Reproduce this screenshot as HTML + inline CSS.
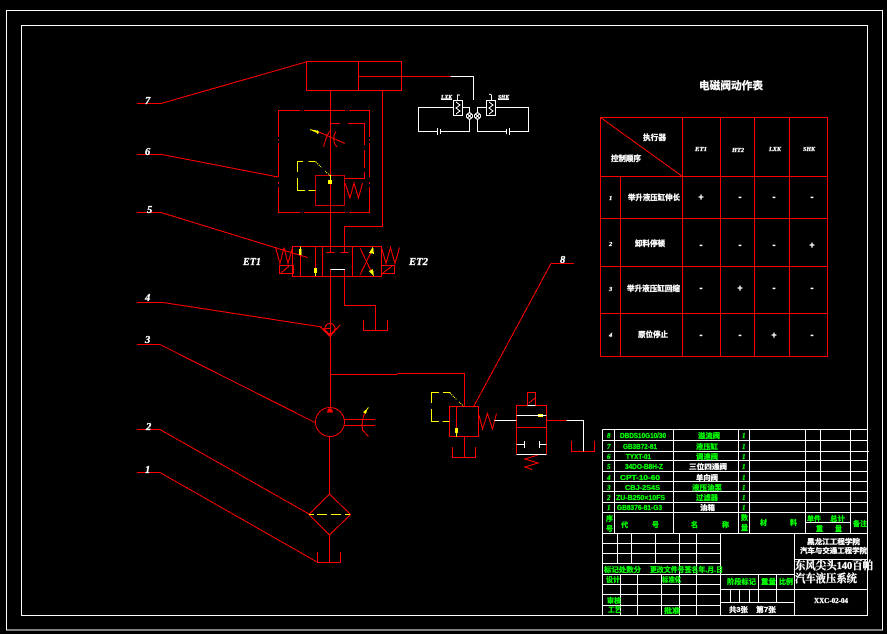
<!DOCTYPE html>
<html>
<head>
<meta charset="utf-8">
<style>
html,body{margin:0;padding:0;background:#000;width:887px;height:634px;overflow:hidden}
svg{display:block}
text{font-family:"Liberation Sans","Noto Sans CJK SC",sans-serif;font-weight:bold}
.w{fill:#fff}.g{fill:#0f0}
.w text{stroke:#fff;stroke-width:.3}
.g text{stroke:#0f0;stroke-width:.3}
.m{text-anchor:middle}
.r path,.r line,.r rect,.r circle{fill:none;stroke:#f00;stroke-width:1}
.y path,.y rect{fill:none;stroke:#ff0;stroke-width:1}
.wl path,.wl rect,.wl circle{fill:none;stroke:#fff;stroke-width:1}
.it{font-family:"Liberation Serif","Noto Serif CJK SC",serif;font-style:italic}
.se{font-family:"Liberation Serif","Noto Serif CJK SC",serif}
</style>
</head>
<body>
<svg width="887" height="634" viewBox="0 0 887 634" xmlns="http://www.w3.org/2000/svg" shape-rendering="crispEdges">
<rect width="887" height="634" fill="#000"/>

<!-- frames -->
<g class="wl">
<rect x="6.5" y="10.5" width="876" height="619.5"/>
<rect x="21.5" y="25.5" width="846" height="590"/>
</g>

<!-- hydraulic red -->
<g class="r">
<!-- cylinder -->
<rect x="306.5" y="61.5" width="95" height="29"/>
<path d="M358.5 61.5V90.5M358.5 76.5H450.5"/>
<path d="M330.5 90.5V246.5M382.5 90.5V226.5H344.5V246.5"/>
<!-- leaders -->
<path d="M137 103.5H161L306 62"/>
<path d="M137 154.5H162L278 177"/>
<path d="M137 212.5H161L307.5 257.5"/>
<path d="M137 302.5H163L322 327"/>
<path d="M137 344.5H160L316 423"/>
<path d="M137 429.5H160L309 514"/>
<path d="M137 472.5H160L317 562"/>
<path d="M551 263.5H574M551 263.5L474 406"/>
<!-- dash frame 6 -->
<path d="M278.5 110.5H300M301.5 110.5H302.5M304 110.5H345M346.5 110.5H347.5M349 110.5H369.5V137M369.5 139V140M369.5 143V177M369.5 182V184M369.5 187V212.5H349M347.5 212.5H346.5M345 212.5H304M302.5 212.5H301.5M300 212.5H278.5V187M278.5 184V182M278.5 177V143M278.5 140V139M278.5 137V110.5"/>
<!-- throttle return -->
<path d="M330.5 123.5H340M348 123.5H364.5V145M364.5 150V168M364.5 172V178.5H344.5"/>
<!-- valve in 6 -->
<rect x="315.5" y="175.5" width="29" height="30" style="stroke:#d00000"/>
<path d="M345 183L350 198L354 183L358.5 198L362.5 183"/>
<path d="M319 132L345 143.5"/>
<path d="M329.5 131Q325 140 323.5 147M336 131Q331 140 337 147"/>
<!-- directional valve -->
<rect x="292.5" y="246.5" width="89" height="30"/>
<path d="M322.5 246.5V276.5M352.5 246.5V276.5M300.5 246.5V276.5M315.5 246.5V276.5"/>
<path d="M330.5 246.5V252.5M326.5 252.5H334.5M344.5 246.5V252.5M340.5 252.5H348.5"/>
<path d="M360 248L373 275M373 248L360 275"/>
<path d="M275.5 247.5L280 263.5L284 247.5L288 263.5L292.5 247.5"/>
<path d="M381.5 247.5L386 263.5L390.5 247.5L395 263.5L399.5 247.5"/>
<rect x="279.5" y="265.5" width="14" height="8"/>
<path d="M281 273L289 266"/>
<rect x="381.5" y="265.5" width="13" height="8"/>
<path d="M383 273L392 266"/>
<!-- below valve -->
<path d="M330.5 269.5V408M344.5 269.5V305.5H375.5V330.5"/>
<path d="M363.5 320V330.5H387.5V320"/>
<!-- check valve -->
<circle cx="330" cy="328.5" r="5"/>
<path d="M320 326.5L330 336.5L340 325M323.5 328.5L330 335L336.5 328.5M325 328.5H330"/>
<!-- branch -->
<path d="M330.5 374.5H397.5M397.5 373.5H464.5V406"/>
<!-- pump -->
<circle cx="330" cy="422" r="14.5"/>
<path d="M344.5 419.5H375M344.5 425.5H375"/>
<path d="M365.5 412Q361 420 362.5 430L368.5 436.5"/>
<path d="M329.5 436V494M329.5 535V562.5"/>
<path d="M329.5 494L350.5 514.5L329.5 535L309 514.5Z"/>
<path d="M317.5 552V562.5H340.5V552"/>
<!-- relief -->
<rect x="449.5" y="406.5" width="29" height="30"/>
<path d="M456.5 406.5V436.5M464.5 436.5V457.5"/>
<path d="M452.5 447V457.5H475.5V447"/>
<path d="M479 415L482.5 429L487.5 413.5L492.5 429L496.5 413.5"/>
<!-- right element -->
<path d="M516.5 415V405.5H546.5V415M516.5 415V454M546.5 415V454M516.5 427.5H546.5M546.5 420.5H566.5"/>
<rect x="527.5" y="392.5" width="8" height="13"/>
<path d="M529 403L535 398"/>
<path d="M538 455L525 459L538 463L525 467L532 469.5"/>
<path d="M571.5 441V451.5H594.5V441"/>
</g>
<path d="M328 408.5L332 408.5L333 412.5L327 412.5Z" fill="#f00"/>

<!-- yellow -->
<g class="y">
<path d="M315.5 161.5H308.5M303 161.5H297.5V172M297.5 178V190.5H305M308.5 190.5H315.5"/>
<path d="M316 162L322 168M325 171L330 175.5" stroke-dasharray="1 1"/>
<path d="M330.5 175V180"/>
<path d="M450.5 392.5H443M439 392.5H431.5V403M431.5 409V421.5H439M442.5 421.5H449.5"/>
<path d="M450 393L457 400M459 402L463.5 406" stroke-dasharray="1 1"/>
<path d="M309 514.5H314M317 514.5H327M331 514.5H341M345 514.5H350"/>
<path d="M310 129.5L319 133"/>
<path d="M456.5 431V437M315.5 270V276M300.5 246.5V252M364 413L368.5 407.5"/>
</g>
<g fill="#ff0">
<rect x="328" y="180" width="4" height="4"/>
<path d="M312 129.5L319 131L318 134Z"/>
<rect x="455" y="428" width="3" height="5"/>
<rect x="299" y="249" width="2.5" height="6"/>
<rect x="314" y="268" width="3" height="5"/>
<path d="M373 246.5L374 254L369 253Z"/>
<path d="M374 276.5L369 271L373 269Z"/>
<rect x="538" y="414" width="5" height="3"/>
<path d="M368 408L366 414L363 412Z"/>
</g>

<!-- white hydraulic -->
<g class="wl">
<path d="M450.5 76.5H473.5V100"/>
<rect x="453.5" y="100.5" width="9" height="15"/>
<rect x="486.5" y="100.5" width="9" height="15"/>
<path d="M456 102L460 105L456 108L460 111L456 114"/>
<path d="M489 102L493 105L489 108L493 111L489 114"/>
<path d="M453.5 107.5H418.5V131.5H437M440.5 131.5H469.5V119M462.5 107.5H469.5V113"/>
<path d="M437.5 128V135M440.5 129V134"/>
<path d="M486.5 107.5H477.5V113M495.5 107.5H528.5V131.5H509.5M506.5 131.5H477.5V119"/>
<path d="M509.5 128V135M506.5 129V134"/>
<circle cx="469.5" cy="116" r="3"/>
<circle cx="477.5" cy="116" r="3"/>
<path d="M467.5 114L471.5 118M471.5 114L467.5 118M475.5 114L479.5 118M479.5 114L475.5 118"/>
<path d="M457.5 100V95H460M491.5 100V95L489 94"/>
<path d="M441 99.5H452M498 99.5H509"/>
<path d="M330.5 269.5H345"/>
<path d="M494.5 420.5H516.5M516.5 415.5H546.5M516.5 454.5H546.5M527.5 405.5H535.5"/>
<path d="M566.5 420.5H583.5V451.5"/>
<path d="M516.5 444.5H524.5M524.5 441V448M546.5 444.5H539.5M539.5 441V448"/>
</g>

<!-- control table -->
<g class="r">
<rect x="600.5" y="117.5" width="227" height="239"/>
<path d="M600.5 117.5L682.5 176.5"/>
<path d="M682.5 117.5V356.5M720.5 117.5V356.5M754.5 117.5V356.5M789.5 117.5V356.5M620.5 176.5V356.5"/>
<path d="M600.5 176.5H827.5M600.5 218.5H827.5M600.5 266.5H827.5M600.5 313.5H827.5"/>
</g>

<!-- parts table -->
<g class="wl">
<path d="M602.5 429.5H867.5M602.5 440.5H867.5M602.5 451.5H869M602.5 460.5H867.5M602.5 471.5H867.5M602.5 481.5H867.5M602.5 491.5H867.5M602.5 502.5H867.5M602.5 512.5H867.5M602.5 533.5H867.5"/>
<path d="M602.5 429.5V615.5M614.5 429.5V533.5M673.5 429.5V533.5M738.5 429.5V533.5M749.5 429.5V533.5M805.5 429.5V533.5M820.5 429.5V512.5M850.5 429.5V533.5M867.5 429.5V615.5"/>
<path d="M805.5 522.5H850.5"/>
<path d="M602.5 543.5H720.5M602.5 553.5H720.5M602.5 563.5H720.5M602.5 574.5H794.5M602.5 584.5H720.5M602.5 594.5H720.5M602.5 605.5H720.5M602.5 615.5H867.5"/>
<path d="M617.5 533.5V563.5M631.5 533.5V563.5M655.5 533.5V563.5M679.5 533.5V615.5M696.5 533.5V615.5M720.5 533.5V615.5"/>
<path d="M620.5 574.5V615.5M637.5 574.5V615.5M661.5 574.5V615.5"/>
<path d="M794.5 533.5V615.5M794.5 559.5H867.5M794.5 589.5H867.5"/>
<path d="M720.5 589.5H794.5M720.5 602.5H794.5"/>
<path d="M758.5 574.5V602.5M776.5 574.5V602.5M730.5 589.5V602.5M739.5 589.5V602.5M749.5 589.5V602.5"/>
</g>

<!-- labels hydraulic -->
<g class="w" font-size="10.5">
<text x="145" y="104" class="it">7</text>
<text x="145" y="155" class="it">6</text>
<text x="147" y="213" class="it">5</text>
<text x="145" y="301" class="it">4</text>
<text x="145" y="343" class="it">3</text>
<text x="146" y="430" class="it">2</text>
<text x="145" y="473" class="it">1</text>
<text x="560" y="263" class="it">8</text>
<text x="243" y="265" class="it" font-size="11" textLength="18" lengthAdjust="spacingAndGlyphs">ET1</text>
<text x="409" y="265" class="it" font-size="11" textLength="19" lengthAdjust="spacingAndGlyphs">ET2</text>
</g>
<g class="w" font-size="6">
<text x="441" y="99" class="it" textLength="11" lengthAdjust="spacingAndGlyphs">LXK</text>
<text x="498" y="99" class="it" textLength="11" lengthAdjust="spacingAndGlyphs">SHK</text>
</g>

<!-- control table text -->
<g class="w">
<text x="699" y="89" font-size="10.5" textLength="64" lengthAdjust="spacingAndGlyphs">电磁阀动作表</text>
<text x="643" y="140" font-size="7.5" textLength="23" lengthAdjust="spacingAndGlyphs">执行器</text>
<text x="611" y="161" font-size="7.5" textLength="30" lengthAdjust="spacingAndGlyphs">控制顺序</text>
<g font-size="6.5">
<text x="695" y="151" class="it" textLength="12" lengthAdjust="spacingAndGlyphs">ET1</text>
<text x="732" y="152" class="it" textLength="12" lengthAdjust="spacingAndGlyphs">HT2</text>
<text x="769" y="151" class="it" textLength="12" lengthAdjust="spacingAndGlyphs">LXK</text>
<text x="803" y="151" class="it" textLength="12" lengthAdjust="spacingAndGlyphs">SHK</text>
<text x="609" y="200" class="it">1</text>
<text x="609" y="246" class="it">2</text>
<text x="609" y="291" class="it">3</text>
<text x="609" y="337" class="it">4</text>
</g>
<g font-size="7.5">
<text x="628" y="200" textLength="52" lengthAdjust="spacingAndGlyphs">举升液压缸伸长</text>
<text x="635" y="246" textLength="30" lengthAdjust="spacingAndGlyphs">卸料停顿</text>
<text x="627" y="291" textLength="53" lengthAdjust="spacingAndGlyphs">举升液压缸回缩</text>
<text x="638" y="337" textLength="30" lengthAdjust="spacingAndGlyphs">原位停止</text>
</g>
<g font-size="9">
<text x="701" y="200" class="m">+</text><text x="740" y="200" class="m">-</text><text x="774" y="200" class="m">-</text><text x="812" y="200" class="m">-</text>
<text x="701" y="248" class="m">-</text><text x="740" y="248" class="m">-</text><text x="774" y="248" class="m">-</text><text x="812" y="248" class="m">+</text>
<text x="701" y="291" class="m">-</text><text x="740" y="291" class="m">+</text><text x="774" y="291" class="m">-</text><text x="812" y="291" class="m">-</text>
<text x="701" y="338" class="m">-</text><text x="740" y="338" class="m">-</text><text x="774" y="338" class="m">+</text><text x="812" y="338" class="m">-</text>
</g>
</g>

<!-- parts text -->
<g class="g" font-size="7">
<text x="607" y="438" class="it">8</text><text x="607" y="449" class="it">7</text><text x="607" y="459" class="it">6</text><text x="607" y="469" class="it">5</text><text x="607" y="480" class="it">4</text><text x="607" y="490" class="it">3</text><text x="607" y="500" class="it">2</text><text x="607" y="510" class="it">1</text>
<text x="620" y="438" textLength="46" lengthAdjust="spacingAndGlyphs">DBDS10G10/30</text>
<text x="623" y="449" textLength="34" lengthAdjust="spacingAndGlyphs">GB3B72-81</text>
<text x="626" y="459" textLength="25" lengthAdjust="spacingAndGlyphs">TYXT-01</text>
<text x="625" y="469" textLength="38" lengthAdjust="spacingAndGlyphs">34DO-B8H-Z</text>
<text x="620" y="480" textLength="40" lengthAdjust="spacingAndGlyphs">CPT-10-60</text>
<text x="625" y="490" textLength="35" lengthAdjust="spacingAndGlyphs">CBJ-2S4S</text>
<text x="616" y="500" textLength="49" lengthAdjust="spacingAndGlyphs">ZU-B250×10FS</text>
<text x="617" y="510" textLength="45" lengthAdjust="spacingAndGlyphs">GB8376-81-G3</text>
<text x="698" y="438" textLength="22" lengthAdjust="spacingAndGlyphs">溢流阀</text>
<text x="696" y="449" textLength="22" lengthAdjust="spacingAndGlyphs">液压缸</text>
<text x="696" y="459" textLength="22" lengthAdjust="spacingAndGlyphs">调速阀</text>
<text x="692" y="490" textLength="30" lengthAdjust="spacingAndGlyphs">液压油泵</text>
<text x="696" y="500" textLength="22" lengthAdjust="spacingAndGlyphs">过滤器</text>
<text x="742" y="438" class="it">1</text><text x="742" y="449" class="it">1</text><text x="742" y="459" class="it">1</text><text x="742" y="469" class="it">1</text><text x="742" y="480" class="it">1</text><text x="742" y="490" class="it">1</text><text x="742" y="500" class="it">1</text><text x="742" y="510" class="it">1</text>
<text x="606" y="521">序</text><text x="606" y="531">号</text>
<text x="621" y="527">代</text><text x="652" y="527">号</text>
<text x="691" y="527">名</text><text x="722" y="527">称</text>
<text x="741" y="520">数</text><text x="741" y="530">量</text>
<text x="760" y="525">材</text><text x="790" y="525">料</text>
<text x="807" y="521" textLength="14" lengthAdjust="spacingAndGlyphs">单件</text>
<text x="830" y="521" textLength="15" lengthAdjust="spacingAndGlyphs">总计</text>
<text x="816" y="531">重</text><text x="835" y="531">量</text>
<text x="853" y="526" textLength="14" lengthAdjust="spacingAndGlyphs">备注</text>
<text x="604" y="572" textLength="37" lengthAdjust="spacingAndGlyphs">标记处数分</text>
<text x="650" y="572" textLength="73" lengthAdjust="spacingAndGlyphs">更改文件号签名年.月.日</text>
<text x="606" y="582" textLength="14" lengthAdjust="spacingAndGlyphs">设计</text>
<text x="662" y="582" textLength="19" lengthAdjust="spacingAndGlyphs">标准化</text>
<text x="607" y="603" textLength="14" lengthAdjust="spacingAndGlyphs">审核</text>
<text x="608" y="612" textLength="13" lengthAdjust="spacingAndGlyphs">工艺</text>
<text x="664" y="613" textLength="16" lengthAdjust="spacingAndGlyphs">批准</text>
<text x="727" y="584" textLength="29" lengthAdjust="spacingAndGlyphs">阶段标记</text>
<text x="761" y="584" textLength="15" lengthAdjust="spacingAndGlyphs">重量</text>
<text x="779" y="584" textLength="14" lengthAdjust="spacingAndGlyphs">比例</text>
</g>
<g class="w" font-size="7">
<text x="689" y="469" textLength="38" lengthAdjust="spacingAndGlyphs">三位四通阀</text>
<text x="696" y="480" textLength="22" lengthAdjust="spacingAndGlyphs">单向阀</text>
<text x="700" y="510" textLength="15" lengthAdjust="spacingAndGlyphs">油箱</text>
<text x="729" y="612" textLength="19" lengthAdjust="spacingAndGlyphs">共3张</text>
<text x="756" y="612" textLength="20" lengthAdjust="spacingAndGlyphs">第7张</text>
<text x="807" y="544" textLength="53" lengthAdjust="spacingAndGlyphs">黑龙江工程学院</text>
<text x="800" y="553" textLength="67" lengthAdjust="spacingAndGlyphs">汽车与交通工程学院</text>
<text x="795" y="569" class="se" font-size="11" textLength="78" lengthAdjust="spacingAndGlyphs">东风尖头140百帕</text>
<text x="795" y="582" class="se" font-size="11" textLength="62" lengthAdjust="spacingAndGlyphs">汽车液压系统</text>
<text x="814" y="603" class="se" font-size="7" textLength="34" lengthAdjust="spacingAndGlyphs">XXC-02-04</text>
</g>
</svg>
</body>
</html>
